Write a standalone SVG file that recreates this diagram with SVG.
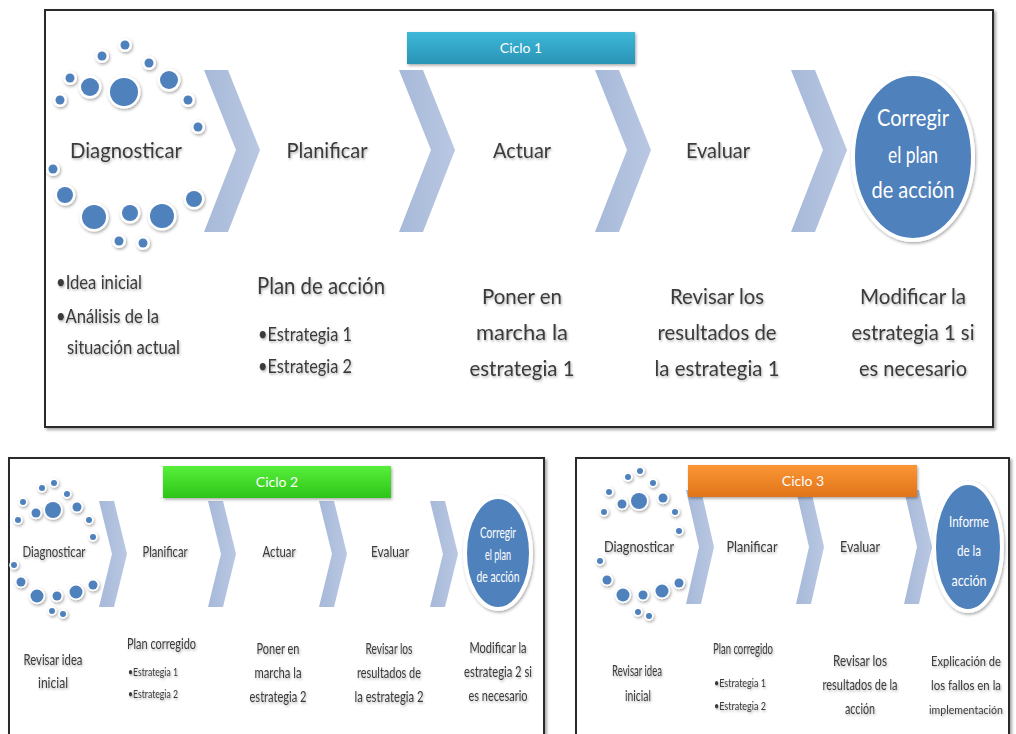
<svg xmlns="http://www.w3.org/2000/svg" width="1016" height="734" viewBox="0 0 1016 734">
<defs>
<filter id="sh" x="-20%" y="-20%" width="140%" height="140%"><feDropShadow dx="1" dy="1.5" stdDeviation="1.5" flood-color="#000" flood-opacity="0.35"/></filter>
<filter id="psh" x="-5%" y="-5%" width="110%" height="110%"><feDropShadow dx="2" dy="2" stdDeviation="1.5" flood-color="#000" flood-opacity="0.35"/></filter>
<filter id="tsh" x="-10%" y="-30%" width="120%" height="160%"><feDropShadow dx="1" dy="1.5" stdDeviation="1.2" flood-color="#000" flood-opacity="0.3"/></filter>
<linearGradient id="g1" x1="0" y1="0" x2="0" y2="1"><stop offset="0" stop-color="#3db8d8"/><stop offset="1" stop-color="#2a93b6"/></linearGradient>
<linearGradient id="g2" x1="0" y1="0" x2="0" y2="1"><stop offset="0" stop-color="#58ef3a"/><stop offset="1" stop-color="#2dc419"/></linearGradient>
<linearGradient id="g3" x1="0" y1="0" x2="0" y2="1"><stop offset="0" stop-color="#fb9634"/><stop offset="1" stop-color="#e0741a"/></linearGradient>
<linearGradient id="gc" x1="0" y1="0" x2="1" y2="0"><stop offset="0" stop-color="#a7b9d9"/><stop offset="1" stop-color="#b9c8e2"/></linearGradient>
<polygon id="chevL" points="0,0 24,0 56,80 24,162 0,162 32,80"/>
<polygon id="chevS" points="0,0 15,0 28,53 15,106 0,106 13,53"/>
<polygon id="chevS3" points="0,0 15,0 28,57 15,114 0,114 13,57"/>
</defs>
<style>
.panel{fill:#fff;stroke:#2b2b2b;stroke-width:2}
.chev{fill:url(#gc)}
.dot{fill:#4f81bd;stroke:#fff;stroke-width:5;paint-order:stroke}
.d2 .dot{stroke-width:3.5}
.dots{filter:url(#sh)}
.bub{fill:#4f81bd;stroke:#fff;stroke-width:4;filter:url(#sh)}
text{font-family:Lato,"Open Sans","Liberation Sans",sans-serif}
.t{fill:#3a3a3a;filter:url(#tsh)}
.m{text-anchor:middle}
.w{fill:#fff;text-anchor:middle}
.cy{fill:#fff;text-anchor:middle;font-size:14px}
.h1{font-size:22px}
.b1{font-size:24px}
.l1{font-size:19px}
.c1{font-size:22px}
.h2{font-size:15px}
.s2{font-size:11px}
.h3{font-size:16px}
.r3{font-size:13px}
.r4{font-size:12px}
</style>

<g id="panel-ciclo1">
<rect class="panel" x="45" y="10" width="948" height="417" filter="url(#psh)"/>
</g>
<g id="panel-ciclo2">
<rect class="panel" x="9" y="458" width="535" height="290" filter="url(#psh)"/>
</g>
<g id="panel-ciclo3">
<rect class="panel" x="576" y="458" width="433" height="290" filter="url(#psh)"/>
</g>

<g id="connectors">
<use href="#chevL" class="chev" x="204" y="70"/>
<use href="#chevL" class="chev" x="399" y="70"/>
<use href="#chevL" class="chev" x="595" y="70"/>
<use href="#chevL" class="chev" x="791" y="70"/>
<use href="#chevS" class="chev" x="99" y="501"/>
<use href="#chevS" class="chev" x="208" y="501"/>
<use href="#chevS" class="chev" x="319" y="501"/>
<use href="#chevS" class="chev" x="430" y="501"/>
<use href="#chevS3" class="chev" x="686" y="490"/>
<use href="#chevS3" class="chev" x="796" y="490"/>
<use href="#chevS3" class="chev" x="904" y="490"/>
</g>

<g id="ciclo1-label">
<rect x="407" y="32" width="228" height="32" fill="url(#g1)" filter="url(#sh)"/>
<text class="cy" x="521" y="53">Ciclo 1</text>
</g>
<g id="ciclo2-label">
<rect x="163" y="466" width="228" height="32" fill="url(#g2)" filter="url(#sh)"/>
<text class="cy" x="277" y="487">Ciclo 2</text>
</g>
<g id="ciclo3-label">
<rect x="688" y="465" width="229" height="32" fill="url(#g3)" filter="url(#sh)"/>
<text class="cy" x="803" y="486">Ciclo 3</text>
</g>

<g id="c1-diagnosticar">
<g class="dots">
<circle class="dot" cx="124" cy="92" r="14"/><circle class="dot" cx="90" cy="87" r="9"/><circle class="dot" cx="169" cy="80" r="9"/>
<circle class="dot" cx="70" cy="78" r="4.5"/><circle class="dot" cx="102" cy="56" r="4.5"/><circle class="dot" cx="125" cy="45" r="4.5"/>
<circle class="dot" cx="149" cy="63" r="4.5"/><circle class="dot" cx="188" cy="100" r="4.5"/><circle class="dot" cx="198" cy="127" r="4.5"/>
<circle class="dot" cx="60" cy="100" r="4.5"/><circle class="dot" cx="53" cy="169" r="4.5"/><circle class="dot" cx="65" cy="195" r="8"/>
<circle class="dot" cx="94" cy="217" r="12"/><circle class="dot" cx="130" cy="213" r="8"/><circle class="dot" cx="162" cy="216" r="12"/>
<circle class="dot" cx="194" cy="199" r="8"/><circle class="dot" cx="119" cy="241" r="4.5"/><circle class="dot" cx="143" cy="243" r="4.5"/>
</g>
<text class="t m h1" x="126" y="158" textLength="112" lengthAdjust="spacingAndGlyphs">Diagnosticar</text>
<text class="t l1" x="56" y="289" textLength="86" lengthAdjust="spacingAndGlyphs">•Idea inicial</text>
<text class="t l1" x="56" y="323" textLength="103" lengthAdjust="spacingAndGlyphs">•Análisis de la</text>
<text class="t l1" x="67" y="354" textLength="113" lengthAdjust="spacingAndGlyphs">situación actual</text>
</g>
<g id="c1-planificar">
<text class="t m h1" x="327" y="158" textLength="81" lengthAdjust="spacingAndGlyphs">Planificar</text>
<text class="t b1" x="257" y="294" textLength="128" lengthAdjust="spacingAndGlyphs">Plan de acción</text>
<text class="t l1" x="258" y="341" textLength="94" lengthAdjust="spacingAndGlyphs">•Estrategia 1</text>
<text class="t l1" x="258" y="373" textLength="94" lengthAdjust="spacingAndGlyphs">•Estrategia 2</text>
</g>
<g id="c1-actuar">
<text class="t m h1" x="522" y="158" textLength="58" lengthAdjust="spacingAndGlyphs">Actuar</text>
<text class="t m c1" x="522" y="304" textLength="80" lengthAdjust="spacingAndGlyphs">Poner en</text>
<text class="t m c1" x="522" y="340" textLength="92" lengthAdjust="spacingAndGlyphs">marcha la</text>
<text class="t m c1" x="522" y="376" textLength="105" lengthAdjust="spacingAndGlyphs">estrategia 1</text>
</g>
<g id="c1-evaluar">
<text class="t m h1" x="718" y="158" textLength="64" lengthAdjust="spacingAndGlyphs">Evaluar</text>
<text class="t m c1" x="717" y="304" textLength="94" lengthAdjust="spacingAndGlyphs">Revisar los</text>
<text class="t m c1" x="717" y="340" textLength="119" lengthAdjust="spacingAndGlyphs">resultados de</text>
<text class="t m c1" x="717" y="376" textLength="125" lengthAdjust="spacingAndGlyphs">la estrategia 1</text>
</g>
<g id="c1-corregir">
<ellipse class="bub" cx="913" cy="157" rx="60" ry="83"/>
<text class="w b1" x="913" y="126" textLength="72" lengthAdjust="spacingAndGlyphs">Corregir</text>
<text class="w b1" x="913" y="163" textLength="50" lengthAdjust="spacingAndGlyphs">el plan</text>
<text class="w b1" x="913" y="198" textLength="83" lengthAdjust="spacingAndGlyphs">de acción</text>
<text class="t m c1" x="913" y="304" textLength="106" lengthAdjust="spacingAndGlyphs">Modificar la</text>
<text class="t m c1" x="913" y="340" textLength="123" lengthAdjust="spacingAndGlyphs">estrategia 1 si</text>
<text class="t m c1" x="913" y="376" textLength="108" lengthAdjust="spacingAndGlyphs">es necesario</text>
</g>

<g id="c2-diagnosticar">
<g class="dots d2">
<circle class="dot" cx="53" cy="510" r="8"/><circle class="dot" cx="36" cy="513" r="4.5"/><circle class="dot" cx="77" cy="507" r="4.5"/>
<circle class="dot" cx="23" cy="502" r="3"/><circle class="dot" cx="42" cy="488" r="3"/><circle class="dot" cx="54" cy="483" r="3"/>
<circle class="dot" cx="67" cy="494" r="3"/><circle class="dot" cx="89" cy="520" r="3"/><circle class="dot" cx="93" cy="537" r="3"/>
<circle class="dot" cx="18" cy="520" r="3"/><circle class="dot" cx="14" cy="565" r="3"/><circle class="dot" cx="21" cy="582" r="4.5"/>
<circle class="dot" cx="37" cy="596" r="6.5"/><circle class="dot" cx="57" cy="596" r="4.5"/><circle class="dot" cx="76" cy="592" r="6.5"/>
<circle class="dot" cx="93" cy="585" r="4.5"/><circle class="dot" cx="52" cy="611" r="3"/><circle class="dot" cx="63" cy="614" r="3"/>
</g>
<text class="t m h2" x="54" y="557" textLength="63" lengthAdjust="spacingAndGlyphs">Diagnosticar</text>
<text class="t m h2" x="53" y="665" textLength="59" lengthAdjust="spacingAndGlyphs">Revisar idea</text>
<text class="t m h2" x="53" y="688" textLength="30" lengthAdjust="spacingAndGlyphs">inicial</text>
</g>
<g id="c2-planificar">
<text class="t m h2" x="165" y="557" textLength="45" lengthAdjust="spacingAndGlyphs">Planificar</text>
<text class="t h2" x="127" y="649" textLength="69" lengthAdjust="spacingAndGlyphs">Plan corregido</text>
<text class="t s2" x="128" y="676" textLength="50" lengthAdjust="spacingAndGlyphs">•Estrategia 1</text>
<text class="t s2" x="128" y="698" textLength="50" lengthAdjust="spacingAndGlyphs">•Estrategia 2</text>
</g>
<g id="c2-actuar">
<text class="t m h2" x="279" y="557" textLength="33" lengthAdjust="spacingAndGlyphs">Actuar</text>
<text class="t m h2" x="278" y="654" textLength="43" lengthAdjust="spacingAndGlyphs">Poner en</text>
<text class="t m h2" x="278" y="678" textLength="47" lengthAdjust="spacingAndGlyphs">marcha la</text>
<text class="t m h2" x="278" y="702" textLength="57" lengthAdjust="spacingAndGlyphs">estrategia 2</text>
</g>
<g id="c2-evaluar">
<text class="t m h2" x="390" y="557" textLength="38" lengthAdjust="spacingAndGlyphs">Evaluar</text>
<text class="t m h2" x="389" y="654" textLength="47" lengthAdjust="spacingAndGlyphs">Revisar los</text>
<text class="t m h2" x="389" y="678" textLength="64" lengthAdjust="spacingAndGlyphs">resultados de</text>
<text class="t m h2" x="389" y="702" textLength="69" lengthAdjust="spacingAndGlyphs">la estrategia 2</text>
</g>
<g id="c2-corregir">
<ellipse class="bub" cx="498" cy="553" rx="33" ry="56" stroke-width="3"/>
<text class="w h2" x="498" y="538" textLength="36" lengthAdjust="spacingAndGlyphs">Corregir</text>
<text class="w h2" x="498" y="560" textLength="26" lengthAdjust="spacingAndGlyphs">el plan</text>
<text class="w h2" x="498" y="582" textLength="43" lengthAdjust="spacingAndGlyphs">de acción</text>
<text class="t m h2" x="498" y="653" textLength="57" lengthAdjust="spacingAndGlyphs">Modificar la</text>
<text class="t m h2" x="498" y="677" textLength="68" lengthAdjust="spacingAndGlyphs">estrategia 2 si</text>
<text class="t m h2" x="498" y="701" textLength="59" lengthAdjust="spacingAndGlyphs">es necesario</text>
</g>

<g id="c3-diagnosticar">
<g class="dots d2">
<circle class="dot" cx="639" cy="501" r="8"/><circle class="dot" cx="622" cy="504" r="4.5"/><circle class="dot" cx="663" cy="498" r="4.5"/>
<circle class="dot" cx="609" cy="492" r="3"/><circle class="dot" cx="628" cy="477" r="3"/><circle class="dot" cx="640" cy="471" r="3"/>
<circle class="dot" cx="653" cy="483" r="3"/><circle class="dot" cx="675" cy="512" r="3"/><circle class="dot" cx="679" cy="531" r="3"/>
<circle class="dot" cx="604" cy="512" r="3"/><circle class="dot" cx="600" cy="561" r="3"/><circle class="dot" cx="607" cy="580" r="4.5"/>
<circle class="dot" cx="623" cy="595" r="6.5"/><circle class="dot" cx="643" cy="595" r="4.5"/><circle class="dot" cx="662" cy="591" r="6.5"/>
<circle class="dot" cx="679" cy="583" r="4.5"/><circle class="dot" cx="638" cy="612" r="3"/><circle class="dot" cx="649" cy="616" r="3"/>
</g>
<text class="t m h3" x="639" y="552" textLength="70" lengthAdjust="spacingAndGlyphs">Diagnosticar</text>
<text class="t m h3" x="637" y="676" textLength="50" lengthAdjust="spacingAndGlyphs">Revisar idea</text>
<text class="t m h3" x="638" y="701" textLength="26" lengthAdjust="spacingAndGlyphs">inicial</text>
</g>
<g id="c3-planificar">
<text class="t m h3" x="752" y="552" textLength="51" lengthAdjust="spacingAndGlyphs">Planificar</text>
<text class="t h2" x="713" y="654" textLength="60" lengthAdjust="spacingAndGlyphs">Plan corregido</text>
<text class="t s2" x="714" y="687" textLength="52" lengthAdjust="spacingAndGlyphs">•Estrategia 1</text>
<text class="t s2" x="714" y="710" textLength="52" lengthAdjust="spacingAndGlyphs">•Estrategia 2</text>
</g>
<g id="c3-evaluar">
<text class="t m h3" x="860" y="552" textLength="40" lengthAdjust="spacingAndGlyphs">Evaluar</text>
<text class="t m h2" x="860" y="666" textLength="54" lengthAdjust="spacingAndGlyphs">Revisar los</text>
<text class="t m h2" x="860" y="690" textLength="75" lengthAdjust="spacingAndGlyphs">resultados de la</text>
<text class="t m h2" x="860" y="714" textLength="30" lengthAdjust="spacingAndGlyphs">acción</text>
</g>
<g id="c3-informe">
<ellipse class="bub" cx="968" cy="547" rx="34" ry="64" stroke-width="3"/>
<text class="w h3" x="969" y="527" textLength="40" lengthAdjust="spacingAndGlyphs">Informe</text>
<text class="w h3" x="969" y="556" textLength="24" lengthAdjust="spacingAndGlyphs">de la</text>
<text class="w h3" x="969" y="586" textLength="35" lengthAdjust="spacingAndGlyphs">acción</text>
<text class="t m r3" x="966" y="666" textLength="70" lengthAdjust="spacingAndGlyphs">Explicación de</text>
<text class="t m r3" x="966" y="690" textLength="70" lengthAdjust="spacingAndGlyphs">los fallos en la</text>
<text class="t m r4" x="966" y="714" textLength="74" lengthAdjust="spacingAndGlyphs">implementación</text>
</g>
</svg>
